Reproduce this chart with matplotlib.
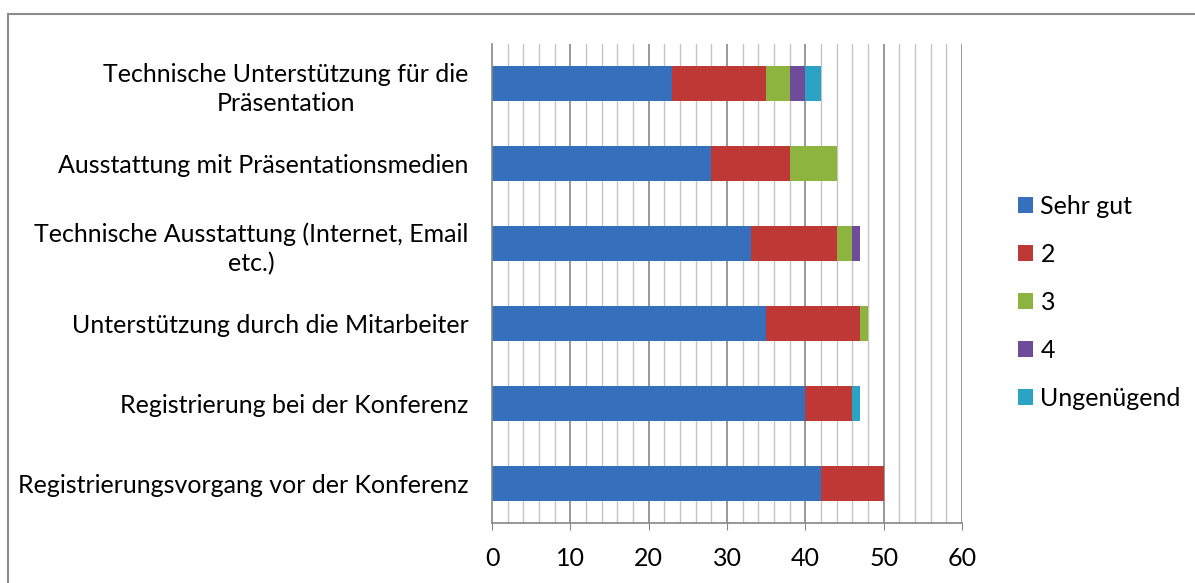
import numpy as np
import matplotlib
matplotlib.use('Agg')
import matplotlib.pyplot as plt
from matplotlib.lines import Line2D

plt.rcParams['font.family'] = ['Lato', 'DejaVu Sans']

# categories, bottom to top
categories = [
    'Registrierungsvorgang vor der Konferenz',
    'Registrierung bei der Konferenz',
    'Unterstützung durch die Mitarbeiter',
    'Technische Ausstattung (Internet, Email\netc.)',
    'Ausstattung mit Präsentationsmedien',
    'Technische Unterstützung für die\nPräsentation',
]
series_names = ['Sehr gut', '2', '3', '4', 'Ungenügend']
sehr_gut = [42, 40, 35, 33, 28, 23]
note_2 = [8, 6, 12, 11, 10, 12]
note_3 = [0, 0, 1, 2, 6, 3]
note_4 = [0, 0, 0, 1, 0, 2]
ungenuegend = [0, 1, 0, 0, 0, 2]
colors = ['#3670BD', '#BE3835', '#8DB43E', '#6E4C9A', '#2BA3C4']
fs = 18

fig = plt.figure(figsize=(11.95, 5.83), dpi=100)
ax = fig.add_axes([492 / 1195, 1 - 523 / 583, 470 / 1195, 479 / 583])

# minor / major grid drawn by hand as vertical lines behind the bars
for x in range(2, 61, 2):
    if x % 10 == 0:
        ax.axvline(x, color='#868686', lw=1.2, zorder=0)
    else:
        ax.axvline(x, color='#C4C4C4', lw=1.0, zorder=0)

y = np.arange(len(categories))
left = np.zeros(len(categories))
for name, vals, c in zip(series_names, [sehr_gut, note_2, note_3, note_4, ungenuegend], colors):
    ax.barh(y, vals, left=left, height=0.44, color=c, label=name, zorder=2)
    left += np.array(vals)

ax.set_xlim(0, 60)
ax.set_ylim(-0.5, 5.5)
ax.set_xticks(range(0, 61, 10))
ax.set_yticks(y)
ax.set_yticklabels(categories, multialignment='center', linespacing=1.3)
ax.tick_params(axis='y', length=0, pad=17, labelsize=fs)
ax.tick_params(axis='x', length=5, color='#868686', pad=12, labelsize=fs)
for s in ['top', 'right']:
    ax.spines[s].set_visible(False)
ax.spines['left'].set_color('#868686')
ax.spines['bottom'].set_color('#868686')
ax.spines['left'].set_linewidth(1.2)
ax.spines['bottom'].set_linewidth(1.2)

h, l = ax.get_legend_handles_labels()
fig.legend(h, l, loc='center left', bbox_to_anchor=(1018 / 1195, 1 - 302 / 583),
           frameon=False, fontsize=fs, handlelength=0.6, handleheight=0.6,
           handletextpad=0.3, labelspacing=1.0, borderpad=0, borderaxespad=0)

# outer chart border (left and top visible)
fig.add_artist(Line2D([8 / 1195, 8 / 1195], [0, 1 - 14 / 583], transform=fig.transFigure,
                      color='#8C8C8C', lw=1.5))
fig.add_artist(Line2D([8 / 1195, 1], [1 - 14 / 583, 1 - 14 / 583], transform=fig.transFigure,
                      color='#8C8C8C', lw=1.5))

fig.savefig('out.png', dpi=100)
